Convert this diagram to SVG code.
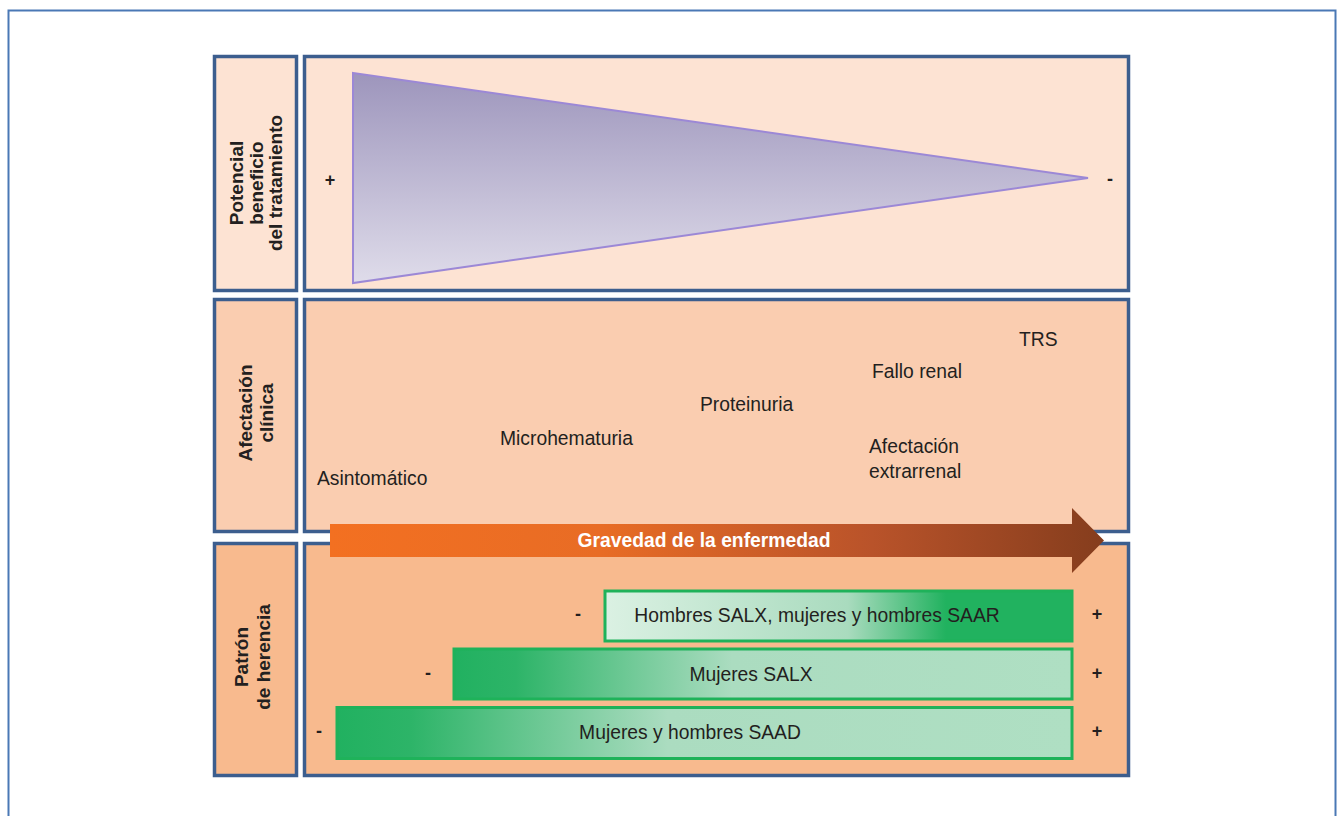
<svg xmlns="http://www.w3.org/2000/svg" width="1338" height="816" viewBox="0 0 1338 816">
<defs>
<style>
.frame{fill:none;stroke:#4a78b5;stroke-width:2}
.cell{stroke:#3c5e8e;stroke-width:3.5}
.r1{fill:#fde3d3}
.r2{fill:#facdb0}
.r3{fill:#f8ba8e}
.lbl{font-family:"Liberation Sans",Arial,sans-serif;font-weight:bold;font-size:19px;fill:#231f20;text-anchor:middle}
.t{font-family:"Liberation Sans",Arial,sans-serif;font-size:19.3px;fill:#231f20}
.pm{font-family:"Liberation Sans",Arial,sans-serif;font-weight:bold;font-size:18px;fill:#231f20;text-anchor:middle}
.bar{stroke:#1fb25a;stroke-width:3}
.bt{font-family:"Liberation Sans",Arial,sans-serif;font-size:19.3px;fill:#231f20;text-anchor:middle}
</style>
<linearGradient id="gTri" x1="0" y1="0" x2="0" y2="1">
<stop offset="0" stop-color="#9d95bc"/>
<stop offset="1" stop-color="#dfdcea"/>
</linearGradient>
<linearGradient id="gArrow" x1="0" y1="0" x2="1" y2="0">
<stop offset="0" stop-color="#f37021"/>
<stop offset="0.35" stop-color="#e86c25"/>
<stop offset="0.7" stop-color="#b9532a"/>
<stop offset="1" stop-color="#853d1d"/>
</linearGradient>
<linearGradient id="gBar1" x1="0" y1="0" x2="1" y2="0">
<stop offset="0" stop-color="#dbf1e3"/>
<stop offset="0.52" stop-color="#a9dbbe"/>
<stop offset="0.73" stop-color="#21b25f"/>
<stop offset="1" stop-color="#21b25f"/>
</linearGradient>
<linearGradient id="gBar2" x1="0" y1="0" x2="1" y2="0">
<stop offset="0" stop-color="#21b160"/>
<stop offset="0.1" stop-color="#2db468"/>
<stop offset="0.45" stop-color="#abdcc0"/>
<stop offset="1" stop-color="#afdfc3"/>
</linearGradient>
</defs>
<rect class="frame" x="8.5" y="10.5" width="1327" height="830"/>

<g id="row1-label">
<rect class="cell r1" x="214.5" y="56.5" width="82" height="234"/>
<text class="lbl" transform="translate(0,183) rotate(-90)"><tspan x="0" y="243">Potencial</tspan><tspan x="0" y="262.5">beneficio</tspan><tspan x="0" y="282">del tratamiento</tspan></text>
</g>
<g id="row1-panel">
<rect class="cell r1" x="304.5" y="56.5" width="824" height="234"/>
<polygon points="353,73 1088,178 353,283" fill="url(#gTri)" stroke="#9c88d6" stroke-width="2"/>
<text class="pm" x="330" y="186">+</text>
<text class="pm" x="1110" y="185">-</text>
</g>

<g id="row2-label">
<rect class="cell r2" x="214.5" y="299.5" width="82" height="232"/>
<text class="lbl" transform="translate(0,413) rotate(-90)"><tspan x="0" y="252">Afectación</tspan><tspan x="0" y="273">clínica</tspan></text>
</g>
<g id="row2-panel">
<rect class="cell r2" x="304.5" y="299.5" width="824" height="232"/>
<text class="t" x="317" y="485">Asintomático</text>
<text class="t" x="500" y="445">Microhematuria</text>
<text class="t" x="700" y="411">Proteinuria</text>
<text class="t" x="872" y="378">Fallo renal</text>
<text class="t" x="1019" y="346">TRS</text>
<text class="t"><tspan x="869" y="453">Afectación</tspan><tspan x="869" y="478">extrarrenal</tspan></text>
</g>

<g id="row3-label">
<rect class="cell r3" x="214.5" y="543.5" width="82" height="232"/>
<text class="lbl" transform="translate(0,657) rotate(-90)"><tspan x="0" y="248">Patrón</tspan><tspan x="0" y="270">de herencia</tspan></text>
</g>
<g id="row3-panel">
<rect class="cell r3" x="304.5" y="543.5" width="824" height="232"/>
</g>

<g id="bar-salx-saar">
<rect class="bar" x="605" y="591" width="467" height="50" fill="url(#gBar1)"/>
<text class="bt" x="817" y="622">Hombres SALX, mujeres y hombres SAAR</text>
<text class="pm" x="578" y="620">-</text>
<text class="pm" x="1097" y="620">+</text>
</g>
<g id="bar-mujeres-salx">
<rect class="bar" x="454" y="649" width="618" height="50" fill="url(#gBar2)"/>
<text class="bt" x="751" y="681">Mujeres SALX</text>
<text class="pm" x="428" y="679">-</text>
<text class="pm" x="1097" y="679">+</text>
</g>
<g id="bar-saad">
<rect class="bar" x="337" y="707.5" width="735" height="51" fill="url(#gBar2)"/>
<text class="bt" x="690" y="739">Mujeres y hombres SAAD</text>
<text class="pm" x="319" y="737">-</text>
<text class="pm" x="1097" y="737">+</text>
</g>

<g id="connectors">
<g id="gravedad-arrow">
<polygon points="330,524 1072,524 1072,508 1104,540.5 1072,573 1072,557 330,557" fill="url(#gArrow)"/>
<text x="704" y="547" font-family="Liberation Sans, Arial, sans-serif" font-weight="bold" font-size="19.3" fill="#ffffff" text-anchor="middle">Gravedad de la enfermedad</text>
</g>
</g>
</svg>
